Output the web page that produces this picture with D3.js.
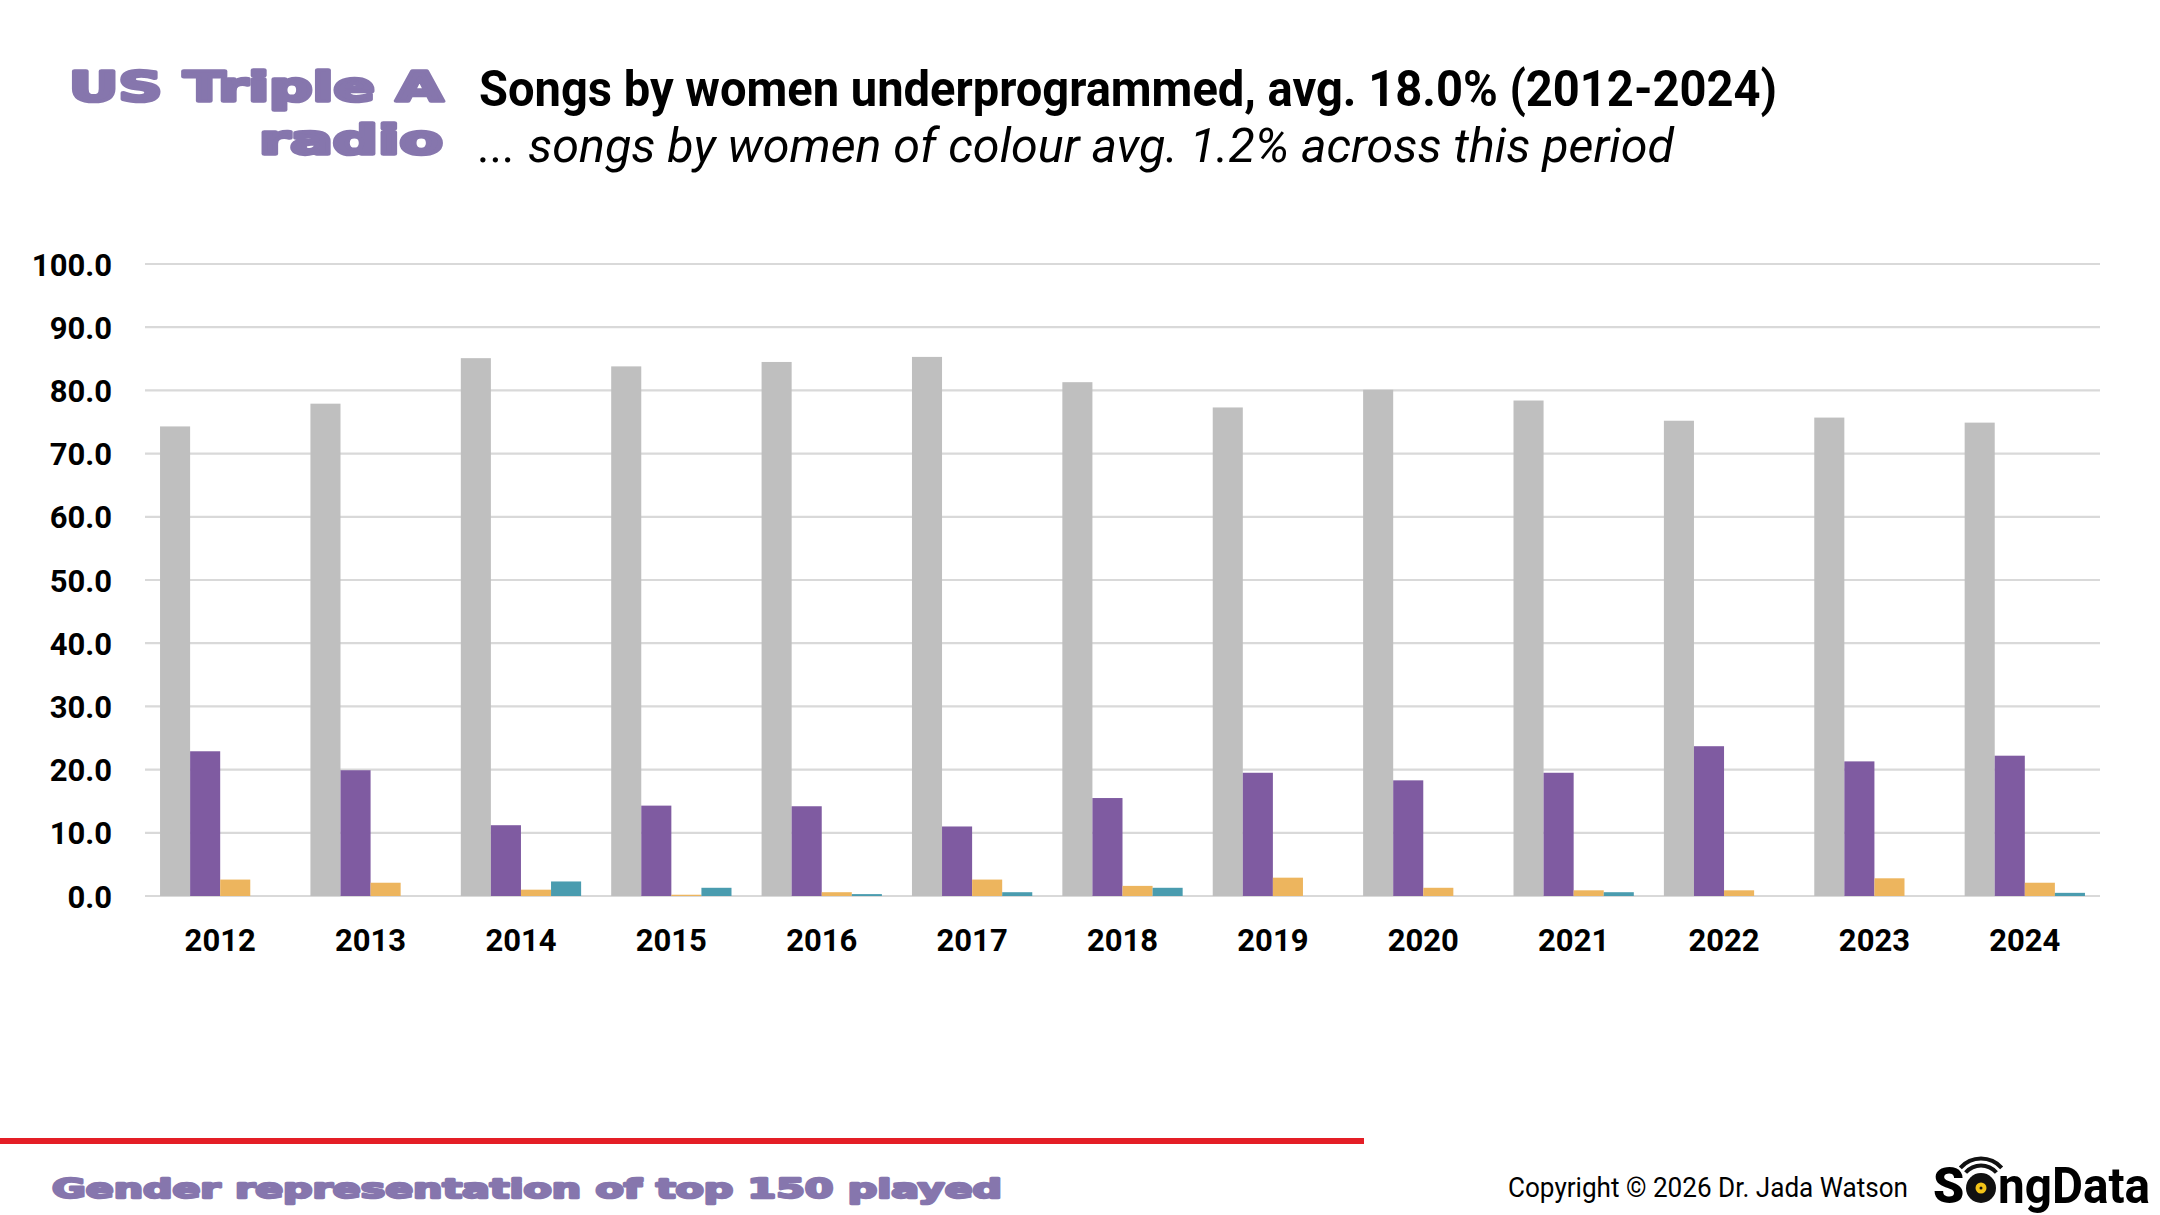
<!DOCTYPE html>
<html>
<head>
<meta charset="utf-8">
<script src="https://cdn.jsdelivr.net/npm/d3@7/dist/d3.min.js"></script>
<style>
  html, body { margin: 0; padding: 0; background: #ffffff; }
  svg { display: block; }
</style>
</head>
<body>
<svg id="chart" width="2160" height="1215"></svg>
<script>
// ---- data ----
const years = ["2012","2013","2014","2015","2016","2017","2018","2019","2020","2021","2022","2023","2024"];
const seriesNames = ["Men", "Women", "Mixed", "Other"];
const men   = [74.3, 77.9, 85.1, 83.8, 84.5, 85.3, 81.3, 77.3, 80.1, 78.4, 75.2, 75.7, 74.9];
const women = [22.9, 19.9, 11.2, 14.3, 14.2, 11.0, 15.5, 19.5, 18.3, 19.5, 23.7, 21.3, 22.2];
const mixed = [2.6, 2.1, 1.0, 0.2, 0.6, 2.6, 1.6, 2.9, 1.3, 0.9, 0.9, 2.8, 2.1];
const other = [0.0, 0.0, 2.3, 1.3, 0.3, 0.6, 1.3, 0.0, 0.0, 0.6, 0.0, 0.0, 0.5];
const yTicks = [0, 10, 20, 30, 40, 50, 60, 70, 80, 90, 100];
const titleText = "Songs by women underprogrammed, avg. 18.0% (2012-2024)";
const subtitleText = "... songs by women of colour avg. 1.2% across this period";

const colors = ["#bfbfbf", "#7f5ba1", "#edb55e", "#4a9caf"];
const seriesValues = [men, women, mixed, other];

const rows = years.map((y, i) => ({ year: y, values: seriesValues.map((s, k) => ({ key: seriesNames[k], v: s[i], k })) }));

const svg = d3.select("#chart");
const plot = { left: 145, right: 2100, top: 264, bottom: 896 };

const x0 = d3.scaleBand().domain(years).range([plot.left, plot.right]).paddingInner(0.2).paddingOuter(0.1);
const x1 = d3.scaleBand().domain(seriesNames).range([0, x0.bandwidth()]);
const y = d3.scaleLinear().domain([0, 100]).range([plot.bottom, plot.top]);

// gridlines
svg.append("g").selectAll("line").data(yTicks).join("line")
  .attr("x1", plot.left).attr("x2", plot.right)
  .attr("y1", d => y(d)).attr("y2", d => y(d))
  .attr("stroke", "#d9d9d9").attr("stroke-width", 2.2);

// y axis labels
const yAxis = d3.axisLeft(y).tickValues(yTicks).tickFormat(d3.format(".1f")).tickSize(0).tickPadding(0);
const gy = svg.append("g").attr("transform", `translate(${plot.left - 33},0)`).call(yAxis);
gy.select(".domain").remove();
gy.selectAll("text").attr("font-family", "Roboto, 'DejaVu Sans', sans-serif")
  .attr("font-weight", 700).attr("font-size", 31).attr("fill", "#000").attr("dy", "0.36em");

// bars
const groups = svg.append("g").selectAll("g").data(rows).join("g")
  .attr("transform", d => `translate(${x0(d.year)},0)`);
groups.selectAll("rect").data(d => d.values).join("rect")
  .attr("x", d => x1(d.key)).attr("width", x1.bandwidth())
  .attr("y", d => y(d.v)).attr("height", d => y(0) - y(d.v))
  .attr("fill", d => colors[d.k]);

// x axis labels
const xAxis = d3.axisBottom(x0).tickSize(0).tickPadding(0);
const gx = svg.append("g").attr("transform", `translate(0,${plot.bottom + 44})`).call(xAxis);
gx.select(".domain").remove();
gx.selectAll("text").attr("font-family", "Roboto, 'DejaVu Sans', sans-serif")
  .attr("font-weight", 700).attr("font-size", 31).attr("fill", "#000").attr("dy", "0.36em");

// titles
svg.append("text").attr("x", 479).attr("y", 106)
  .attr("font-family", "Roboto, 'DejaVu Sans', sans-serif").attr("font-weight", 700)
  .attr("font-size", 50).attr("fill", "#000")
  .attr("textLength", 1298).attr("lengthAdjust", "spacingAndGlyphs")
  .text(titleText);
svg.append("text").attr("x", 479).attr("y", 162)
  .attr("font-family", "Roboto, 'DejaVu Sans', sans-serif").attr("font-style", "italic")
  .attr("font-weight", 400).attr("font-size", 48).attr("fill", "#000")
  .attr("textLength", 1195).attr("lengthAdjust", "spacingAndGlyphs")
  .text(subtitleText);

// purple heavy labels
const purple = "#8676ad";
function heavy(txt, xRight, yBase, size, len) {
  svg.append("text").attr("x", xRight).attr("y", yBase).attr("text-anchor", "end")
    .attr("font-family", "'DejaVu Sans', sans-serif").attr("font-weight", 700)
    .attr("font-size", size).attr("fill", purple).attr("stroke", purple).attr("stroke-width", 3.5)
    .attr("stroke-linejoin", "round")
    .attr("textLength", len).attr("lengthAdjust", "spacingAndGlyphs")
    .text(txt);
}
heavy("US Triple A", 443, 101, 40, 374);
heavy("radio", 443, 154, 40, 184);

// red rule
svg.append("rect").attr("x", 0).attr("y", 1138).attr("width", 1364).attr("height", 6).attr("fill", "#e41e26");

// footer
svg.append("text").attr("x", 52).attr("y", 1198)
  .attr("font-family", "'DejaVu Sans', sans-serif").attr("font-weight", 700)
  .attr("font-size", 27).attr("fill", purple).attr("stroke", purple).attr("stroke-width", 2.4)
  .attr("stroke-linejoin", "round")
  .attr("textLength", 950).attr("lengthAdjust", "spacingAndGlyphs")
  .text("Gender representation of top 150 played");

svg.append("text").attr("x", 1508).attr("y", 1197)
  .attr("font-family", "Roboto, 'DejaVu Sans', sans-serif").attr("font-weight", 400)
  .attr("font-size", 27).attr("fill", "#000")
  .attr("textLength", 400).attr("lengthAdjust", "spacingAndGlyphs")
  .text("Copyright \u00A9 2026 Dr. Jada Watson");

// SongData logo
const logo = svg.append("g");
logo.append("text").attr("x", 1933).attr("y", 1203)
  .attr("font-family", "Roboto, 'DejaVu Sans', sans-serif").attr("font-weight", 900)
  .attr("font-size", 50).attr("fill", "#000").text("S");
const cx = 1981, cy = 1188, r = 15;
logo.append("circle").attr("cx", cx).attr("cy", cy).attr("r", r).attr("fill", "#111");
logo.append("circle").attr("cx", cx).attr("cy", cy).attr("r", 5.5).attr("fill", "#f2c318");
logo.append("circle").attr("cx", cx).attr("cy", cy).attr("r", 1.5).attr("fill", "#111");
[21, 28].forEach(rr => {
  logo.append("path")
    .attr("d", d3.arc()({ innerRadius: rr - 2.5, outerRadius: rr + 1.5, startAngle: -0.85, endAngle: 0.85 }))
    .attr("transform", `translate(${cx},${cy - 2})`).attr("fill", "#111");
});
logo.append("text").attr("x", 1998).attr("y", 1203)
  .attr("font-family", "Roboto, 'DejaVu Sans', sans-serif").attr("font-weight", 700)
  .attr("font-size", 50).attr("fill", "#000")
  .attr("textLength", 152).attr("lengthAdjust", "spacingAndGlyphs")
  .text("ngData");
</script>
</body>
</html>
